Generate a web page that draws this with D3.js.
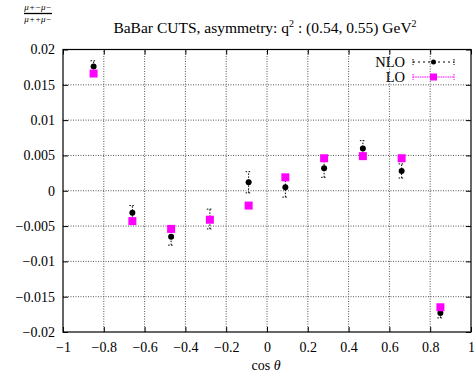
<!DOCTYPE html>
<html><head><meta charset="utf-8">
<script src="https://cdn.jsdelivr.net/npm/d3@7"></script>
<style>body{margin:0;background:#fff}svg{display:block}text{font-family:"Liberation Serif","Times New Roman",serif;fill:#000}</style>
</head><body>
<script>
const cosTheta = [-0.85, -0.66, -0.47, -0.28, -0.09, 0.09, 0.28, 0.47, 0.66, 0.85];
const nloValues = [0.0176, -0.0031, -0.0065, -0.0040, 0.0012, 0.0005, 0.0032, 0.0060, 0.0028, -0.0173];
const nloErrors = [0.0008, 0.0010, 0.0012, 0.0014, 0.0015, 0.0014, 0.0013, 0.0011, 0.0010, 0.0007];
const loValues = [0.0166, -0.0043, -0.0054, -0.0041, -0.0021, 0.0019, 0.0046, 0.0049, 0.0046, -0.0165];
const loErrors = [0.0003, 0.0003, 0.0003, 0.0003, 0.0003, 0.0003, 0.0003, 0.0003, 0.0003, 0.0003];
const xTicks = [-1, -0.8, -0.6, -0.4, -0.2, 0, 0.2, 0.4, 0.6, 0.8, 1];
const yTicks = [-0.02, -0.015, -0.01, -0.005, 0, 0.005, 0.01, 0.015, 0.02];
const titleText = "BaBar CUTS, asymmetry: q";

const W = 474, H = 374;
const m = {l: 63, r: 3, t: 49.5, b: 42};
const svg = d3.select("body").append("svg").attr("width", W).attr("height", H);
const x = d3.scaleLinear().domain([-1, 1]).range([m.l, W - m.r]);
const y = d3.scaleLinear().domain([-0.02, 0.02]).range([H - m.b, m.t]);

const fmt = v => (v < 0 ? "\u2212" : "") + String(Math.abs(+v.toFixed(3)));

// grid
const grid = svg.append("g");
grid.selectAll("line.gx").data(xTicks.slice(1, -1)).join("line")
  .attr("x1", d => x(d)).attr("x2", d => x(d)).attr("y1", y(-0.02)).attr("y2", y(0.02))
  .attr("stroke", "#555").attr("stroke-width", 1).attr("stroke-dasharray", "1,1.5");
grid.selectAll("line.gy").data(yTicks.slice(1, -1)).join("line")
  .attr("y1", d => y(d)).attr("y2", d => y(d)).attr("x1", x(-1)).attr("x2", x(1))
  .attr("stroke", "#555").attr("stroke-width", 1).attr("stroke-dasharray", "1,1.5");

// axes
const ax = svg.append("g").attr("transform", `translate(0,${y(-0.02)})`)
  .call(d3.axisBottom(x).tickValues(xTicks).tickSize(-5).tickPadding(10).tickFormat(fmt));
const ay = svg.append("g").attr("transform", `translate(${x(-1)},0)`)
  .call(d3.axisLeft(y).tickValues(yTicks).tickSize(-5).tickPadding(8).tickFormat(fmt));
const axT = svg.append("g").attr("transform", `translate(0,${y(0.02)})`)
  .call(d3.axisTop(x).tickValues(xTicks).tickSize(-5).tickFormat(""));
const ayR = svg.append("g").attr("transform", `translate(${x(1)},0)`)
  .call(d3.axisRight(y).tickValues(yTicks).tickSize(-5).tickFormat(""));
[ax, ay, axT, ayR].forEach(g => {
  g.select(".domain").remove();
  g.selectAll("line").attr("stroke", "#000");
  g.selectAll("text").style("font-size", "14px").style("font-family", '"Liberation Serif",serif');
});
svg.append("rect").attr("x", x(-1)).attr("y", y(0.02)).attr("width", x(1) - x(-1)).attr("height", y(-0.02) - y(0.02))
  .attr("fill", "none").attr("stroke", "#000").attr("stroke-width", 1.2);

// error bars
function errBars(vals, errs, color, dash) {
  const g = svg.append("g");
  cosTheta.forEach((c, i) => {
    const cx = x(c), y1 = y(vals[i] - errs[i]), y2 = y(vals[i] + errs[i]);
    g.append("line").attr("x1", cx).attr("x2", cx).attr("y1", y1).attr("y2", y2)
      .attr("stroke", color).attr("stroke-width", 1).attr("stroke-dasharray", dash);
    [y1, y2].forEach(yy => g.append("line").attr("x1", cx - 3).attr("x2", cx + 3).attr("y1", yy).attr("y2", yy)
      .attr("stroke", color).attr("stroke-width", 1).attr("stroke-dasharray", "1.5,1.5"));
  });
}
errBars(nloValues, nloErrors, "#000", "1.5,1.5");
svg.append("g").selectAll("circle").data(cosTheta).join("circle")
  .attr("cx", d => x(d)).attr("cy", (d, i) => y(nloValues[i])).attr("r", 3).attr("fill", "#000");
errBars(loValues, loErrors, "#ff00ff", null);
svg.append("g").selectAll("rect").data(cosTheta).join("rect")
  .attr("x", d => x(d) - 4).attr("y", (d, i) => y(loValues[i]) - 4).attr("width", 8).attr("height", 8).attr("fill", "#ff00ff");

// legend
const lg = svg.append("g");
[["NLO", "#000", 62], ["LO", "#ff00ff", 77]].forEach(([name, col, ly], k) => {
  lg.append("text").attr("x", 405).attr("y", ly + 5).attr("text-anchor", "end").style("font-size", "14.5px").text(name);
  lg.append("line").attr("x1", 413).attr("x2", 454).attr("y1", ly).attr("y2", ly).attr("stroke", col)
    .attr("stroke-dasharray", k === 0 ? "2,3" : "1.5,0.8").attr("stroke-width", 1);
  [413, 454].forEach(xx => lg.append("line").attr("x1", xx).attr("x2", xx).attr("y1", ly - 3).attr("y2", ly + 3)
    .attr("stroke", col).attr("stroke-dasharray", "1.5,1"));
  if (k === 0) lg.append("circle").attr("cx", 433.5).attr("cy", ly).attr("r", 2.5).attr("fill", col);
  else lg.append("rect").attr("x", 430).attr("y", ly - 3.5).attr("width", 7).attr("height", 7).attr("fill", col);
});

// title
const t = svg.append("text").attr("x", 265).attr("y", 33).attr("text-anchor", "middle").style("font-size", "15.5px");
t.append("tspan").text(titleText);
t.append("tspan").attr("dy", -6).style("font-size", "10px").text("2");
t.append("tspan").attr("dy", 6).text(" : (0.54, 0.55) GeV");
t.append("tspan").attr("dy", -6).style("font-size", "10px").text("2");

// y label fraction
const fl = svg.append("g").style("font-style", "italic");
fl.append("text").attr("x", 38).attr("y", 10).attr("text-anchor", "middle").style("font-size", "9px").text("\u03bc+\u2212\u03bc\u2212");
fl.append("line").attr("x1", 24).attr("x2", 52).attr("y1", 13.5).attr("y2", 13.5).attr("stroke", "#000").attr("stroke-width", 1.3);
fl.append("text").attr("x", 38).attr("y", 22).attr("text-anchor", "middle").style("font-size", "9px").text("\u03bc++\u03bc\u2212");

// x label
const xl = svg.append("text").attr("x", 266).attr("y", 370).attr("text-anchor", "middle").style("font-size", "14px");
xl.append("tspan").text("cos ");
xl.append("tspan").style("font-style", "italic").text("\u03b8");
</script>
</body></html>
